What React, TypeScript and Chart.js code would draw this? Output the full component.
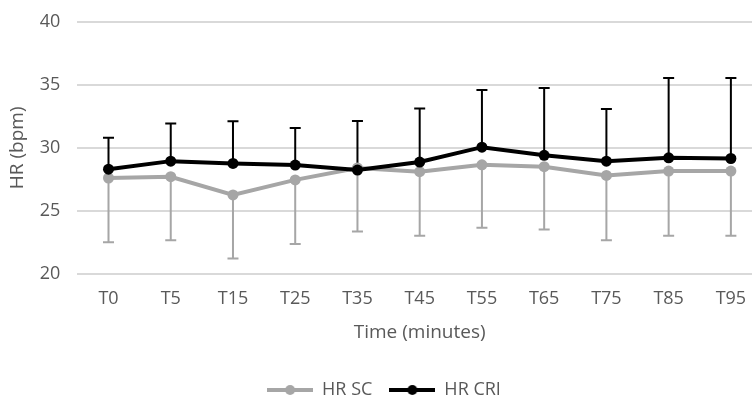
import React, { useEffect, useRef } from "react";
import { Chart, registerables } from "chart.js";
Chart.register(...registerables);

const categories = ["T0", "T5", "T15", "T25", "T35", "T45", "T55", "T65", "T75", "T85", "T95"];
const hrSC = [27.6, 27.7, 26.25, 27.45, 28.4, 28.1, 28.65, 28.5, 27.8, 28.15, 28.15];
const hrSCsd = [5.1, 5.05, 5.05, 5.1, 5.05, 5.1, 5.0, 5.0, 5.15, 5.15, 5.15];
const hrCRI = [28.3, 28.94, 28.76, 28.63, 28.23, 28.87, 30.05, 29.4, 28.94, 29.2, 29.15];
const hrCRIsd = [2.5, 3.0, 3.35, 2.95, 3.9, 4.25, 4.55, 5.35, 4.15, 6.35, 6.4];
const yTicks = [20, 25, 30, 35, 40];

const GRAY = "#a6a6a6";
const BLACK = "#000000";
const TEXT = "#595959";
const FONT = "'Open Sans', sans-serif";

function legendImage(color: string) {
  const c = document.createElement("canvas");
  c.width = 46;
  c.height = 14;
  const g = c.getContext("2d")!;
  g.strokeStyle = color;
  g.lineWidth = 4;
  g.beginPath();
  g.moveTo(0, 7);
  g.lineTo(46, 7);
  g.stroke();
  g.fillStyle = color;
  g.beginPath();
  g.arc(23, 7, 5, 0, Math.PI * 2);
  g.fill();
  return c;
}

const errorBarPlugin = {
  id: "errorBars",
  beforeDatasetsDraw(chart: any) {
    const { ctx } = chart;
    const x = chart.scales.x;
    const y = chart.scales.y;
    const draw = (means: number[], sds: number[], dir: number, color: string) => {
      ctx.save();
      ctx.strokeStyle = color;
      ctx.lineWidth = 2;
      means.forEach((m, i) => {
        const px = x.getPixelForValue(i);
        const y0 = y.getPixelForValue(m);
        const y1 = y.getPixelForValue(m + dir * sds[i]);
        ctx.beginPath();
        ctx.moveTo(px, y0);
        ctx.lineTo(px, y1);
        ctx.moveTo(px - 5.5, y1);
        ctx.lineTo(px + 5.5, y1);
        ctx.stroke();
      });
      ctx.restore();
    };
    draw(hrSC, hrSCsd, -1, GRAY);
    draw(hrCRI, hrCRIsd, 1, BLACK);
  },
};

export default function App() {
  const ref = useRef<HTMLCanvasElement | null>(null);
  useEffect(() => {
    document.body.style.margin = "0";
    document.body.style.overflow = "hidden";
    const imgSC = legendImage(GRAY);
    const imgCRI = legendImage(BLACK);
    const chart = new Chart(ref.current!, {
      type: "line",
      data: {
        labels: categories,
        datasets: [
          {
            label: "HR CRI",
            data: hrCRI,
            borderColor: BLACK,
            backgroundColor: BLACK,
            borderWidth: 4,
            pointRadius: 5.5,
            pointBorderWidth: 0,
            pointBackgroundColor: BLACK,
            tension: 0,
          },
          {
            label: "HR SC",
            data: hrSC,
            borderColor: GRAY,
            backgroundColor: GRAY,
            borderWidth: 4,
            pointRadius: 5.5,
            pointBorderWidth: 0,
            pointBackgroundColor: GRAY,
            tension: 0,
          },
        ],
      },
      options: {
        responsive: false,
        animation: false,
        layout: { padding: { left: 6, right: 8, top: 5, bottom: -12 } },
        plugins: {
          tooltip: { enabled: false },
          legend: {
            position: "bottom",
            labels: {
              usePointStyle: true,
              pointStyleWidth: 46,
              boxHeight: 14,
              color: TEXT,
              font: { family: FONT, size: 18 },
              padding: 17,
              generateLabels: () => [
                { text: "HR SC", pointStyle: imgSC as any, datasetIndex: 1, fontColor: TEXT, lineWidth: 0, strokeStyle: "transparent", fillStyle: GRAY },
                { text: "HR CRI", pointStyle: imgCRI as any, datasetIndex: 0, fontColor: TEXT, lineWidth: 0, strokeStyle: "transparent", fillStyle: BLACK },
              ],
            },
          },
        },
        scales: {
          x: {
            offset: true,
            grid: { display: false, drawTicks: false },
            border: { display: false },
            ticks: { color: TEXT, font: { family: FONT, size: 18 }, padding: 14, maxRotation: 0 },
            title: { display: true, text: "Time (minutes)", color: TEXT, font: { family: FONT, size: 19 }, padding: { top: -2, bottom: 20 } },
          },
          y: {
            min: 20,
            max: 40,
            afterBuildTicks: (axis: any) => {
              axis.ticks = yTicks.map((v) => ({ value: v }));
            },
            afterFit: (axis: any) => {
              axis.paddingTop = 22;
            },
            grid: { color: "#d9d9d9", lineWidth: 2, drawTicks: false },
            border: { display: false },
            ticks: { color: TEXT, font: { family: FONT, size: 18 }, padding: 17 },
            title: { display: true, text: "HR (bpm)", color: TEXT, font: { family: FONT, size: 19 }, padding: { top: 0, bottom: -6 } },
          },
        },
      },
      plugins: [errorBarPlugin],
    });
    return () => chart.destroy();
  }, []);
  return (
    <div style={{ width: 752, height: 397, overflow: "hidden", position: "relative" }}>
      <canvas ref={ref} width={770} height={397} style={{ display: "block" }} />
    </div>
  );
}
